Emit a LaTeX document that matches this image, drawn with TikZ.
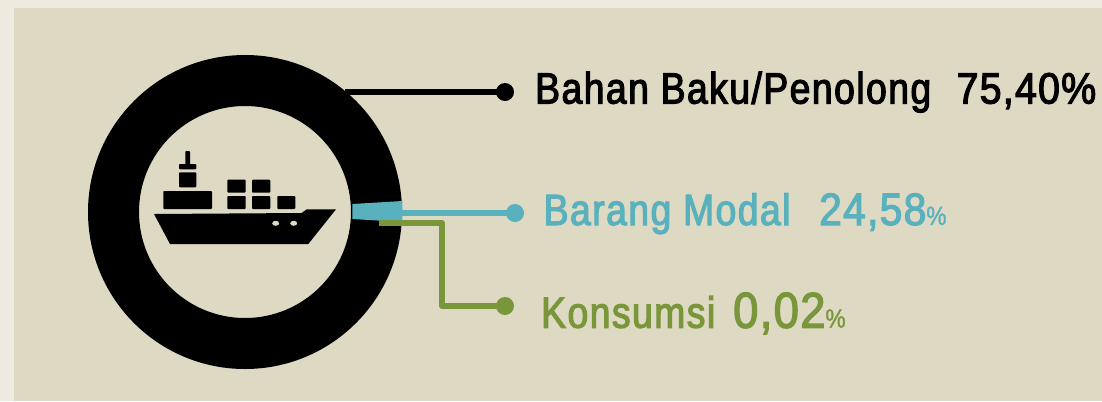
\documentclass[tikz,border=0pt]{standalone}
\usepackage{fontspec}
\setmainfont{Liberation Sans}
\newfontfamily\namefont[FakeStretch=0.85,FakeBold=2.6,LetterSpace=3.5]{Liberation Sans}
\newfontfamily\numfont[FakeStretch=0.9,FakeBold=2.6,LetterSpace=2.8]{Liberation Sans}
\newfontfamily\pctfont[FakeStretch=0.85,FakeBold=1]{Liberation Sans}
\definecolor{pagecol}{HTML}{EDEBE0}
\definecolor{panelcol}{HTML}{DDD9C3}
\definecolor{tealcol}{HTML}{59B1BD}
\definecolor{greencol}{HTML}{7A963A}
\tikzset{
  x=0.75pt,y=-0.75pt,
  dotnode/.style={circle,inner sep=0pt,minimum size=13.5pt},
  label/.style={anchor=base west,inner sep=0pt,font=\namefont\fontsize{32.8}{33}\selectfont},
  leader/.style={line width=4.5pt,line join=round},
  part/.style={fill=black,rounded corners=0.7pt},
}
\newcommand{\nm}[2]{{\numfont\fontsize{#1}{#1}\selectfont #2}}
\newcommand{\pct}{{\pctfont\fontsize{20}{20}\selectfont \%}}
\begin{document}
\begin{tikzpicture}
\useasboundingbox (0,0) rectangle (1102,401);
\fill[pagecol] (0,0) rectangle (1102,401);
\fill[panelcol] (14,8) rectangle (1102,401);
% ring
\fill[black,even odd rule] (245,212) circle[radius=157] (245,212) circle[radius=106];
% ship
\fill[black] (154,214) -- (301.7,213) -- (306.7,209.3) -- (336,209.3) -- (308.3,244) -- (170,244) -- cycle;
\fill[part] (163.3,191) rectangle (212,209);
\fill[part] (179,172.3) rectangle (196.3,187.3);
\fill[part] (179,164) rectangle (196.3,169.3);
\fill[part] (185.3,151) rectangle (190,165);
\fill[part] (227.3,179.7) rectangle (245.7,192.7);
\fill[part] (252,179.7) rectangle (270.3,192.7);
\fill[part] (227.3,196) rectangle (245.7,209);
\fill[part] (252,196) rectangle (270.3,209);
\fill[part] (277.3,196) rectangle (295.3,209);
\fill[panelcol] (275.7,223.3) ellipse[x radius=3.5,y radius=2.5];
\fill[panelcol] (293.7,223.3) ellipse[y radius=2.5,x radius=3.5];
% anchors and dots
\coordinate (blackstart) at (345,92);
\node[dotnode,fill=black] (blackdot) at (505,92) {};
\coordinate (tealstart) at (400,213);
\node[dotnode,fill=tealcol] (tealdot) at (515,213) {};
\coordinate (greenstart) at (379,223);
\coordinate (greenbend) at (442,223);
\node[dotnode,fill=greencol] (greendot) at (505,306) {};
% wedge and leaders
\fill[tealcol] (352.3,204) -- (402.3,201) -- (402.3,222) -- (352.3,219) -- cycle;
\draw[leader,black] (blackstart) -- (blackdot.center);
\draw[leader,tealcol] (tealstart) -- (tealdot.center);
\draw[leader,greencol] (greenstart) -- (greenbend) |- (greendot.center);
% labels
\node[label,text=black] (lblA) at (535,103.5) {Bahan Baku/Penolong\hspace{19pt}\nm{32.8}{75,40\%}};
\node[label,text=tealcol] (lblB) at (543.5,225) {Barang Modal\hspace{21.5pt}\nm{34}{24,58}\pct};
\node[label,text=greencol] (lblC) at (541,327.7) {Konsumsi\hspace{13.5pt}\nm{37.7}{0,02}\pct};
\end{tikzpicture}
\end{document}
